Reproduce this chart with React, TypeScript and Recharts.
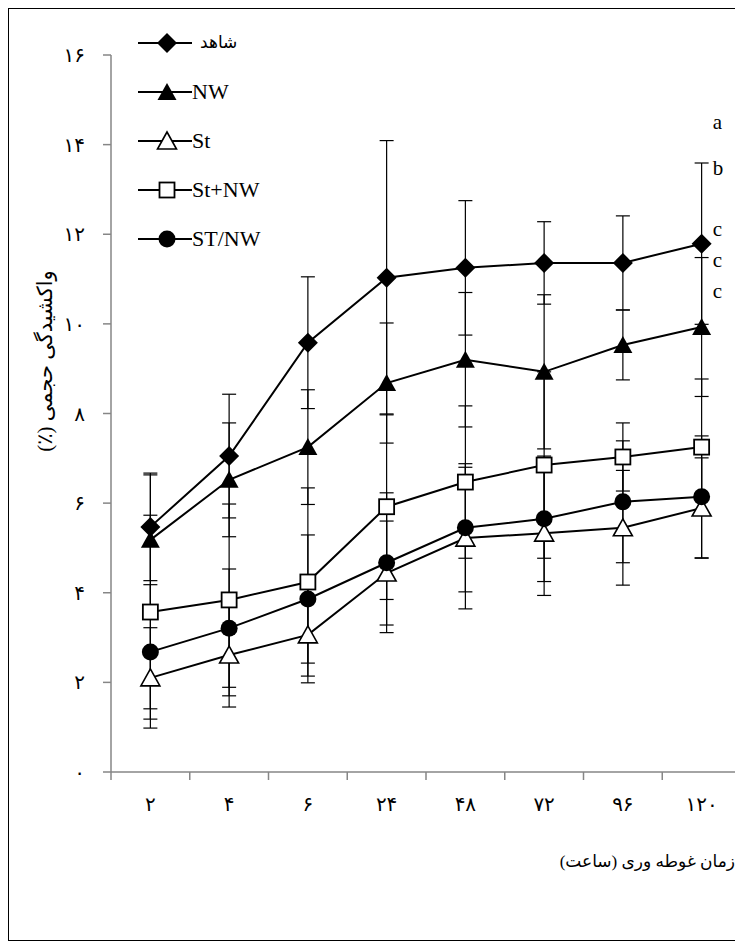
import React from 'react'
import { ErrorBar, Legend, Line, LineChart, ReferenceDot, XAxis, YAxis } from 'recharts'

// immersion time (hours), Persian digits as printed
const HOURS = ['۲', '۴', '۶', '۲۴', '۴۸', '۷۲', '۹۶', '۱۲۰']

const CONTROL = [5.47, 7.05, 9.58, 11.03, 11.25, 11.36, 11.36, 11.79]
const CONTROL_ERR = [1.2, 1.38, 1.47, 3.06, 1.5, 0.92, 1.05, 1.8]
const NW = [5.18, 6.52, 7.25, 8.68, 9.2, 8.93, 9.53, 9.93]
const NW_ERR = [1.45, 1.27, 1.28, 1.34, 1.5, 1.72, 0.78, 1.55]
const ST = [2.1, 2.61, 3.06, 4.44, 5.22, 5.33, 5.45, 5.89]
const ST_ERR = [1.12, 1.16, 1.07, 1.16, 1.58, 1.39, 1.28, 1.12]
const ST_PLUS_NW = [3.57, 3.84, 4.24, 5.92, 6.47, 6.85, 7.03, 7.25]
const ST_PLUS_NW_ERR = [2.16, 2.14, 2.1, 2.07, 1.7, 2.08, 0.76, 1.52]
const ST_SLASH_NW = [2.68, 3.21, 3.86, 4.67, 5.45, 5.65, 6.03, 6.14]
const ST_SLASH_NW_ERR = [1.5, 1.32, 1.43, 1.56, 1.43, 1.4, 1.36, 1.36]

const Y_TICKS = [0, 2, 4, 6, 8, 10, 12, 14, 16]

// significance letters next to the 120 h points
const LETTERS = ['a', 'b', 'c', 'c', 'c']
const LETTER_Y = [14.51, 13.48, 12.12, 11.43, 10.74]

const FONT = '"Liberation Serif", "DejaVu Sans", serif'
const AXIS_GRAY = '#868686'

type Shape = 'diamond' | 'triFilled' | 'triOpen' | 'square' | 'circle'

const SERIES: { key: string; label: string; shape: Shape; fa?: boolean }[] = [
  { key: 'control', label: 'شاهد', shape: 'diamond', fa: true },
  { key: 'nw', label: 'NW', shape: 'triFilled' },
  { key: 'st', label: 'St', shape: 'triOpen' },
  { key: 'stPlusNw', label: 'St+NW', shape: 'square' },
  { key: 'stSlashNw', label: 'ST/NW', shape: 'circle' },
]

const data = HOURS.map((h, i) => ({
  x: i + 0.5,
  hour: h,
  control: CONTROL[i],
  controlErr: CONTROL_ERR[i],
  nw: NW[i],
  nwErr: NW_ERR[i],
  st: ST[i],
  stErr: ST_ERR[i],
  stPlusNw: ST_PLUS_NW[i],
  stPlusNwErr: ST_PLUS_NW_ERR[i],
  stSlashNw: ST_SLASH_NW[i],
  stSlashNwErr: ST_SLASH_NW_ERR[i],
}))

const toFa = (v: number | string) => String(v).replace(/\d/g, (d) => '۰۱۲۳۴۵۶۷۸۹'[+d])

function marker(shape: Shape, cx: number, cy: number, key?: string) {
  switch (shape) {
    case 'diamond':
      return <path key={key} d={`M${cx},${cy - 10}L${cx + 10},${cy}L${cx},${cy + 10}L${cx - 10},${cy}Z`} fill="#000" />
    case 'triFilled':
      return <path key={key} d={`M${cx},${cy - 9}L${cx + 9.5},${cy + 8}L${cx - 9.5},${cy + 8}Z`} fill="#000" />
    case 'triOpen':
      return (
        <path
          key={key}
          d={`M${cx},${cy - 9}L${cx + 9.5},${cy + 8}L${cx - 9.5},${cy + 8}Z`}
          fill="#fff"
          stroke="#000"
          strokeWidth={1.6}
        />
      )
    case 'square':
      return <rect key={key} x={cx - 7.5} y={cy - 7.5} width={15} height={15} fill="#fff" stroke="#000" strokeWidth={1.8} />
    default:
      return <circle key={key} cx={cx} cy={cy} r={8.5} fill="#000" />
  }
}

const LegendBox = () => (
  <div style={{ fontFamily: FONT, color: '#000' }}>
    {SERIES.map((s) => (
      <div key={s.key} style={{ display: 'flex', alignItems: 'center', height: 49 }}>
        <svg width={54} height={22} style={{ display: 'block' }}>
          <line x1={0} y1={11} x2={54} y2={11} stroke="#000" strokeWidth={2} />
          {marker(s.shape, 29, 11)}
        </svg>
        <span style={{ fontSize: s.fa ? 17 : 22, marginLeft: s.fa ? 8 : 0, lineHeight: 1 }}>{s.label}</span>
      </div>
    ))}
  </div>
)

export default function App() {
  return (
    <div
      style={{
        position: 'relative',
        width: 733,
        height: 931,
        border: '1px solid #000',
        background: '#fff',
        fontFamily: FONT,
      }}
    >
      <LineChart width={733} height={931} data={data} margin={{ top: 46, right: 1, bottom: 100, left: 42 }}>
        <XAxis
          xAxisId="marks"
          type="number"
          dataKey="x"
          domain={[0, 8]}
          ticks={[0, 1, 2, 3, 4, 5, 6, 7, 8]}
          interval={0}
          tickFormatter={() => ''}
          tickSize={8}
          height={8}
          axisLine={{ stroke: AXIS_GRAY, strokeWidth: 1.5 }}
          tickLine={{ stroke: AXIS_GRAY, strokeWidth: 1.5 }}
        />
        <XAxis
          xAxisId="pos"
          type="number"
          dataKey="x"
          domain={[0, 8]}
          ticks={HOURS.map((_, i) => i + 0.5)}
          interval={0}
          tickFormatter={(v: number) => HOURS[Math.floor(v)]}
          axisLine={false}
          tickLine={false}
          tickMargin={11}
          height={60}
          tick={{ fill: '#000', fontSize: 20, fontFamily: FONT }}
        />
        <YAxis
          domain={[0, 16]}
          ticks={Y_TICKS}
          interval={0}
          tickFormatter={toFa}
          width={60}
          tickSize={8}
          tickMargin={18}
          axisLine={{ stroke: AXIS_GRAY, strokeWidth: 1.5 }}
          tickLine={{ stroke: AXIS_GRAY, strokeWidth: 1.5 }}
          tick={{ fill: '#000', fontSize: 20, fontFamily: FONT }}
        />
        <Legend
          content={LegendBox}
          layout="vertical"
          align="center"
          verticalAlign="middle"
          wrapperStyle={{ top: 9, left: 129, width: 'auto' }}
        />

        {/* error bars first, so every marker sits on top of them */}
        {SERIES.map((s) => (
          <Line
            key={`${s.key}-err`}
            xAxisId="pos"
            dataKey={s.key}
            stroke="none"
            dot={false}
            activeDot={false}
            legendType="none"
            isAnimationActive={false}
          >
            <ErrorBar dataKey={`${s.key}Err`} direction="y" width={7} stroke="#000" strokeWidth={1.2} />
          </Line>
        ))}
        {SERIES.map((s) => (
          <Line
            key={s.key}
            xAxisId="pos"
            dataKey={s.key}
            name={s.label}
            stroke="#000"
            strokeWidth={2}
            activeDot={false}
            isAnimationActive={false}
            dot={(p: any) => marker(s.shape, p.cx, p.cy, `${s.key}-${p.index}`)}
          />
        ))}

        {LETTERS.map((l, i) => (
          <ReferenceDot
            key={`letter-${i}`}
            xAxisId="pos"
            x={data[data.length - 1].x}
            y={LETTER_Y[i]}
            r={1}
            fill="none"
            stroke="none"
            label={{ value: l, position: 'right', offset: 10, fill: '#000', fontSize: 21, fontFamily: FONT }}
          />
        ))}
      </LineChart>

      <div
        style={{
          position: 'absolute',
          left: 36,
          top: 352,
          transform: 'translate(-50%, -50%) rotate(-90deg)',
          whiteSpace: 'nowrap',
          direction: 'rtl',
          fontSize: 21,
          fontFamily: FONT,
        }}
      >
        واکشیدگی حجمی (٪)
      </div>
      <div
        style={{
          position: 'absolute',
          right: 7,
          top: 842,
          whiteSpace: 'nowrap',
          direction: 'rtl',
          fontSize: 17,
          fontFamily: FONT,
        }}
      >
        زمان غوطه وری (ساعت)
      </div>
    </div>
  )
}
